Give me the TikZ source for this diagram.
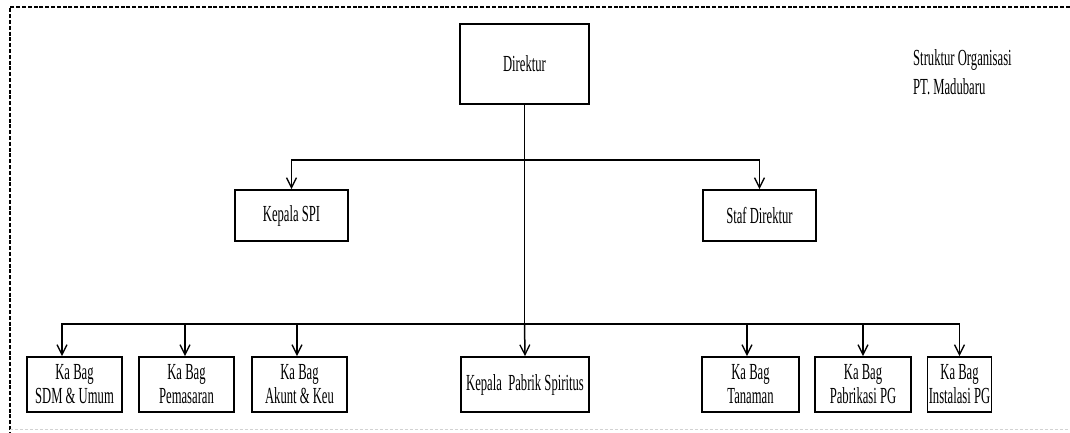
\documentclass[tikz,border=0pt]{standalone}
\usepackage{fontspec}
\setmainfont{Liberation Serif}[FakeStretch=0.55]
\usetikzlibrary{arrows.meta}
\begin{document}
\begin{tikzpicture}[x=1pt,y=-1pt,
  box/.style={draw,line width=1.8pt,inner sep=0pt,align=center,font=\fontsize{23}{24}\selectfont},
  ln/.style={line width=1.5pt},
  arr/.style={line width=1.5pt,-{Straight Barb[length=10pt,width=10pt,line width=1.3pt]}}]
\useasboundingbox (0,0) rectangle (1070,432);
\draw[line width=2.4pt,dash pattern=on 4pt off 1.8pt] (1070,7) -- (10,7) -- (10,432);
\draw[gray!35,line width=1pt,dash pattern=on 3pt off 2pt] (10,429) -- (1070,429);

\node[box,minimum width=129,minimum height=80] (dir) at (524.5,64) {Direktur};
\node[box,minimum width=113,minimum height=51] (spi) at (291.5,215.5) {Kepala SPI};
\node[box,minimum width=113,minimum height=51] (staf) at (759.5,215.5) {Staf Direktur};

\node[box,minimum width=95,minimum height=55] (sdm) at (74.5,384.5) {Ka Bag\\SDM \& Umum};
\node[box,minimum width=95,minimum height=55] (pem) at (186.5,384.5) {Ka Bag\\Pemasaran};
\node[box,minimum width=95,minimum height=55] (ak) at (299.5,384.5) {Ka Bag\\Akunt \& Keu};
\node[box,minimum width=128,minimum height=55] (kp) at (525,384.5) {Kepala\ \ Pabrik Spiritus};
\node[box,minimum width=97,minimum height=55] (tan) at (750.5,384.5) {Ka Bag\\Tanaman};
\node[box,minimum width=96,minimum height=55] (pab) at (863,384.5) {Ka Bag\\Pabrikasi PG};
\node[box,minimum width=64,minimum height=55] (ins) at (959.5,384.5) {Ka Bag\\Instalasi PG};

\node[anchor=north west,inner sep=0pt,align=left,font=\fontsize{23}{29}\selectfont] (title) at (913,49) {Struktur Organisasi\\PT. Madubaru};

\coordinate (j1) at (dir.south |- 0,160);
\coordinate (j2) at (dir.south |- 0,324);

\draw[ln] (dir.south) -- (j2);
\draw[arr] (j2) -- (kp.north);
\draw[arr] (j1) -| (spi.north);
\draw[arr] (j1) -| (staf.north);
\draw[arr] (j2) -| ([xshift=-12.5pt]sdm.north);
\draw[arr] (j2) -| ([xshift=-1.5pt]pem.north);
\draw[arr] (j2) -| ([xshift=-2.5pt]ak.north);
\draw[arr] (j2) -| ([xshift=-3.5pt]tan.north);
\draw[arr] (j2) -| (pab.north);
\draw[arr] (j2) -| (ins.north);
\end{tikzpicture}
\end{document}
